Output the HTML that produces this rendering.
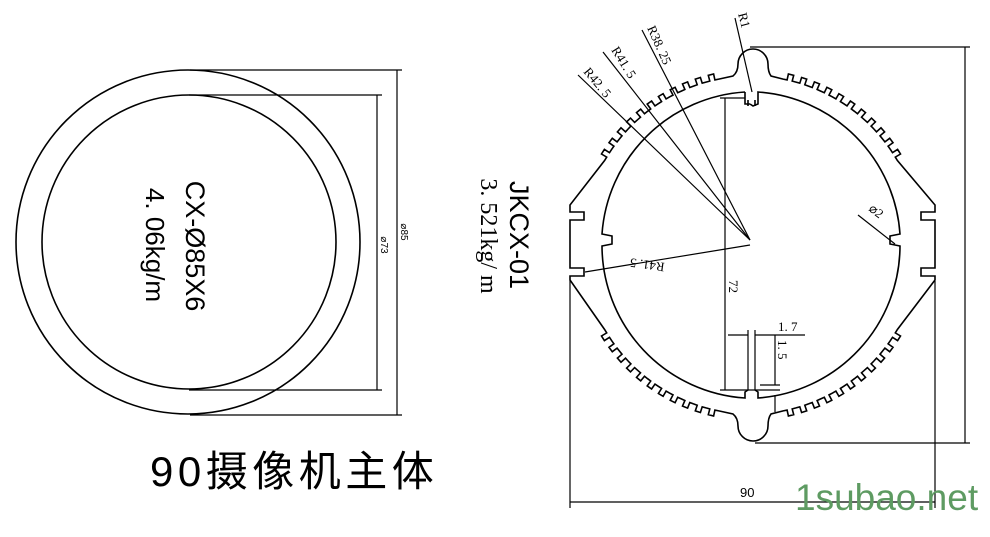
<!DOCTYPE html>
<html><head><meta charset="utf-8"><style>
html,body{margin:0;padding:0;background:#fff;width:990px;height:537px;overflow:hidden}
svg{display:block}
text{fill:#000}
</style></head><body>
<svg id="s" width="990" height="537" viewBox="0 0 990 537" xmlns="http://www.w3.org/2000/svg">
<g fill="none" stroke="#000" stroke-width="1.6">
 <circle cx="188" cy="242" r="172"/>
 <circle cx="189" cy="242" r="147"/>
 <line x1="190" y1="70" x2="402" y2="70" stroke-width="1.2"/>
 <line x1="190" y1="415" x2="402" y2="415" stroke-width="1.2"/>
 <line x1="397" y1="70" x2="397" y2="415" stroke-width="1.2"/>
 <line x1="189" y1="95" x2="382" y2="95" stroke-width="1.2"/>
 <line x1="189" y1="390" x2="382" y2="390" stroke-width="1.2"/>
 <line x1="377" y1="95" x2="377" y2="390" stroke-width="1.2"/>
</g>
<g font-family="Liberation Sans, sans-serif">
 <text transform="translate(397,232) rotate(90)" font-size="10" text-anchor="middle" dy="-4">⌀85</text>
 <text transform="translate(377,245) rotate(90)" font-size="10" text-anchor="middle" dy="-4">⌀73</text>
 <text transform="translate(186,246) rotate(90)" font-size="27" text-anchor="middle">CX-Ø85X6</text>
 <text transform="translate(146,245) rotate(90)" font-size="26" text-anchor="middle">4. 06kg/m</text>
 <text x="150" y="486" font-size="42" letter-spacing="4.5" font-family="Liberation Sans, Noto Sans CJK SC, sans-serif">90摄像机主体</text>
 <text transform="translate(510,235) rotate(90)" font-size="27" text-anchor="middle">JKCX-01</text>
 <text transform="translate(481,236) rotate(90)" font-size="24" text-anchor="middle" font-family="Liberation Serif, serif">3. 521kg/ m</text>
</g>
<g id="prof" fill="none" stroke="#000" stroke-width="1.6"></g>
<g fill="none" stroke="#000" stroke-width="1.2">
 <line x1="750" y1="240" x2="578" y2="75"/>
 <line x1="750" y1="240" x2="603" y2="52"/>
 <line x1="750" y1="240" x2="642" y2="30"/>
 <line x1="735" y1="18" x2="752" y2="92"/>
 <line x1="750" y1="245" x2="585" y2="272"/>
 <line x1="858" y1="215" x2="895" y2="244"/>
 <line x1="750" y1="47" x2="970" y2="47"/>
 <line x1="755" y1="443" x2="970" y2="443"/>
 <line x1="965" y1="47" x2="965" y2="443"/>
 <line x1="570" y1="280" x2="570" y2="508"/>
 <line x1="935" y1="280" x2="935" y2="508"/>
 <line x1="570" y1="502" x2="935" y2="502"/>
 <line x1="720" y1="98" x2="745" y2="98"/>
 <line x1="725" y1="98" x2="725" y2="390"/>
 <line x1="720" y1="390" x2="780" y2="390"/>
 <line x1="748" y1="330" x2="748" y2="390"/>
 <line x1="755" y1="330" x2="755" y2="390"/>
 <line x1="728" y1="335" x2="748" y2="335"/>
 <line x1="755" y1="335" x2="805" y2="335"/>
 <line x1="775" y1="335" x2="775" y2="385"/>
 <line x1="760" y1="385" x2="780" y2="385"/>
 <line x1="775" y1="395" x2="775" y2="412"/>
</g>
<g font-family="Liberation Serif, serif" font-size="13">
 <text transform="translate(583,72) rotate(50)">R42. 5</text>
 <text transform="translate(611,50) rotate(58)">R41. 5</text>
 <text transform="translate(647,28) rotate(66)">R38. 25</text>
 <text transform="translate(738,14) rotate(75)">R1</text>
 <text transform="translate(665,263) rotate(188)">R41. 5</text>
 <text transform="translate(868,210) rotate(38)">⌀2</text>
 <text transform="translate(729,280) rotate(90)">72</text>
 <text x="778" y="331">1. 7</text>
 <text transform="translate(778,340) rotate(90)">1. 5</text>
 <text x="740" y="497" font-family="Liberation Sans, sans-serif" font-size="13">90</text>
</g>
<text x="795" y="510" font-family="Liberation Sans, sans-serif" font-size="37" style="fill:#5e9b62">1subao.net</text>
</svg>
<script>
(function(){
var cx=751,cy=245,rb=169,rt=175;
function P(r,a){a=a*Math.PI/180;return [cx+r*Math.cos(a),cy-r*Math.sin(a)];}
var pts=[];
function L(x,y){pts.push("L"+x.toFixed(1)+" "+y.toFixed(1));}
function teeth(a0,a1){var n=Math.round((a1-a0)/4.6),s=(a1-a0)/n;
 for(var i=0;i<n;i++){var a=a0+i*s,p;
  p=P(rb,a);L(p[0],p[1]);p=P(rb,a+s*0.3);L(p[0],p[1]);p=P(rt,a+s*0.3);L(p[0],p[1]);
  p=P(rt,a+s*0.7);L(p[0],p[1]);p=P(rb,a+s*0.7);L(p[0],p[1]);}
 var p=P(rb,a1);L(p[0],p[1]);}
pts.push("M935 280 L935 276 L921 276 L921 268 L935 268 L935 220 L921 220 L921 212 L935 212 L935 205");
var p=P(rb,30);L(p[0],p[1]);
teeth(30,79);
pts.push("L771 76 Q768 72 768 64 A15 15 0 1 0 738 64 Q738 72 733 76");
teeth(101,150);
L(570,205);
pts.push("L570 212 L584 212 L584 220 L570 220 L570 268 L584 268 L584 276 L570 276 L570 280");
p=P(rb,210);L(p[0],p[1]);
teeth(210,259);
pts.push("L733 414 Q738 418 738 426 A15 15 0 1 0 768 426 Q768 418 771 414");
teeth(281,330);
L(935,280);
var g=document.getElementById("prof");
var ns="http://www.w3.org/2000/svg";
function add(tag,attrs){var e=document.createElementNS(ns,tag);for(var k in attrs)e.setAttribute(k,attrs[k]);g.appendChild(e);}
add("path",{d:pts.join(" ")});
add("path",{d:"M745 92 A153 153 0 0 0 602 234 L612 236 L612 244 L602 246 A153 153 0 0 0 745 398 L745 392 L748 390 M755 390 L758 392 L758 398 A153 153 0 0 0 900 246 L890 244 L890 236 L900 234 A153 153 0 0 0 758 92 L758 104 L753 106 L750 104 M750 104 L745 104 L745 92"});
add("path",{d:"M748 100 L748 106 M755 100 L755 106"});
})();
</script>
</body></html>
